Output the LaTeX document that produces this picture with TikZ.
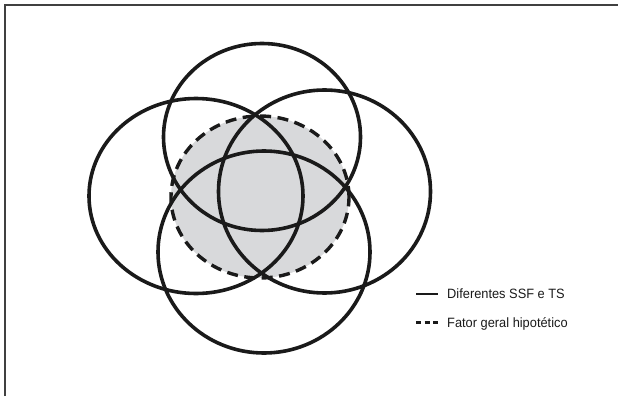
\documentclass[tikz,border=0pt]{standalone}
\usepackage{fontspec}
\setmainfont{Liberation Sans}
\usetikzlibrary{shapes.geometric}
\definecolor{fillgray}{HTML}{D8D9DB}
\definecolor{framegray}{HTML}{404040}
\definecolor{ink}{HTML}{1A1A1A}
\begin{document}
\begin{tikzpicture}[x=1pt,y=-1pt,
  ring/.style={ellipse, draw=ink, line width=3.6pt, inner sep=0pt},
  hypo/.style={ellipse, draw=ink, line width=3.4pt, dash pattern=on 11pt off 6.5pt, fill=fillgray, inner sep=0pt},
  legtext/.style={anchor=base west, inner sep=0pt, font=\fontsize{13.5}{15}\selectfont, text=ink}]
\useasboundingbox (0,0) rectangle (618,396);
% frame (only top and left edges visible)
\coordinate (fr1) at (5,396);
\coordinate (fr2) at (5,5);
\coordinate (fr3) at (618,5);
\draw[framegray, line width=1.6pt] (fr1) -- (fr2) -- (fr3);
% hypothetical general factor
\node[hypo, minimum width=178pt, minimum height=162pt] (g) at (260,197) {};
% specific factors
\node[ring, minimum width=197pt, minimum height=187pt] (top) at (262,137) {};
\node[ring, minimum width=212pt, minimum height=202pt] (bottom) at (264,252) {};
\node[ring, minimum width=214pt, minimum height=195pt] (left) at (196,196) {};
\node[ring, minimum width=212pt, minimum height=203pt] (right) at (324.5,191.5) {};
% legend
\coordinate (l1a) at (416,294);
\coordinate (l1b) at (438,294);
\coordinate (l2a) at (416,322.5);
\coordinate (l2b) at (438,322.5);
\draw[ink, line width=2.4pt] (l1a) -- (l1b);
\draw[ink, line width=2.4pt, dash pattern=on 5pt off 3.5pt] (l2a) -- (l2b);
\node[legtext] (t1) at (447,298.5) {\scalebox{0.95}[1]{Diferentes SSF e TS}};
\node[legtext] (t2) at (447,327.5) {\scalebox{0.95}[1]{Fator geral hipotético}};
\end{tikzpicture}
\end{document}
